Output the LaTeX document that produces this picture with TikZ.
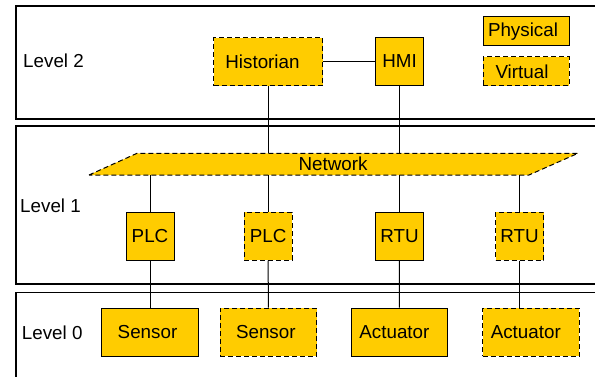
\documentclass[tikz,border=0pt]{standalone}
\usepackage{fontspec}
\setmainfont{Liberation Sans}
\definecolor{dev}{RGB}{255,204,0}
\begin{document}
\begin{tikzpicture}[x=1pt,y=-1pt,
  font=\fontsize{18.8}{22}\selectfont,
  phys/.style={draw=black, fill=dev, line width=1pt, inner sep=0pt},
  virt/.style={phys, dash pattern=on 5pt off 3pt},
  levelbox/.style={draw=black, line width=1.2pt},
  wire/.style={draw=black, line width=1pt},
  lbl/.style={anchor=west, inner sep=0pt},
  sq/.style={minimum width=48pt, minimum height=48pt},
  fd/.style={minimum width=96.5pt, minimum height=48.3pt},
  lg/.style={minimum width=86pt, minimum height=29pt}]
\useasboundingbox (0,0) rectangle (595,376);
\clip (0,0) rectangle (595,376);
% level frames
\draw[levelbox] (16,6) rectangle (620,119);
\draw[levelbox] (16,126) rectangle (620,284);
\draw[levelbox] (16,292.7) rectangle (620,400);
\node[lbl] (l2) at (23,61) {Level 2};
\node[lbl] (l1) at (20,206) {Level 1};
\node[lbl] (l0) at (21.7,332.7) {Level 0};
% legend
\node[phys, lg] (legp) at (526,31.3) {Physical\kern6pt};
\node[virt, lg] (legv) at (526,71.3) {Virtual\kern8pt};
% level 2
\node[virt, minimum width=109pt, minimum height=48pt] (hist) at (268,61.5) {Historian\kern11pt};
\node[phys, sq] (hmi) at (399.5,61.5) {HMI};
% network
\coordinate (nbl) at (89,175);
\coordinate (ntl) at (137,153.3);
\coordinate (ntr) at (578,153.3);
\coordinate (nbr) at (529,175);
\draw[virt] (nbl) -- (ntl) -- (ntr) -- (nbr) -- cycle;
\node[inner sep=0pt, minimum width=392pt, minimum height=21.7pt] (net) at (333,164.2) {Network};
% level 1
\node[phys, sq] (plc1) at (150,236) {PLC};
\node[virt, sq] (plc2) at (268.2,236) {PLC};
\node[phys, sq] (rtu1) at (399.5,236) {RTU};
\node[virt, sq] (rtu2) at (519.5,236) {RTU};
% level 0
\node[phys, fd] (s1) at (150,332.2) {Sensor\kern5pt};
\node[virt, fd] (s2) at (268.3,332.2) {Sensor\kern5pt};
\node[phys, fd] (a1) at (399.4,332.2) {Actuator\kern10pt};
\node[virt, fd] (a2) at (530.8,332.2) {Actuator\kern10pt};
% connectors
\draw[wire] (hist) -- (hmi);
\draw[wire] (hist.south) -- (hist.south |- net.north);
\draw[wire] (hmi.south) -- (hmi.south |- net.north);
\draw[wire] (plc1.north) -- (plc1.north |- net.south);
\draw[wire] (plc2.north) -- (plc2.north |- net.south);
\draw[wire] (rtu1.north) -- (rtu1.north |- net.south);
\draw[wire] (rtu2.north) -- (rtu2.north |- net.south);
\draw[wire] (plc1) -- (s1);
\draw[wire] (plc2) -- (s2);
\draw[wire] (rtu1) -- (a1);
\draw[wire] (rtu2.south) -- (rtu2.south |- a2.north);
\end{tikzpicture}
\end{document}
